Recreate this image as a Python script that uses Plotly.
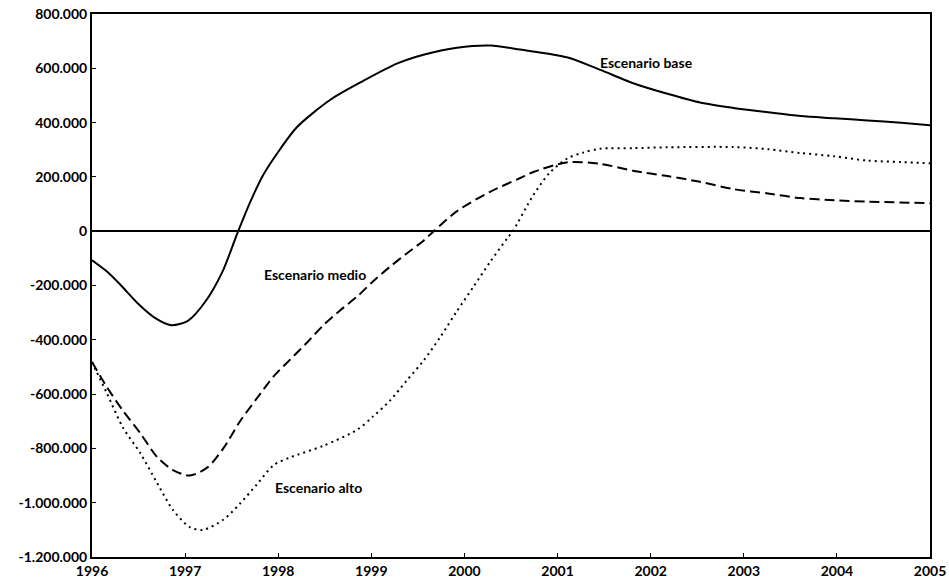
import plotly.graph_objects as go

# ---- data (values in thousands) ----
years_base = [1996.0, 1996.17, 1996.31, 1996.49, 1996.68, 1996.85, 1997.03, 1997.22, 1997.40,
              1997.57, 1997.70, 1997.84, 1998.02, 1998.20, 1998.56, 1998.91, 1999.28, 1999.56,
              1999.92, 2000.28, 2000.60, 2001.11, 2001.46, 2001.82, 2002.18, 2002.53, 2002.89,
              2003.26, 2003.61, 2003.97, 2004.33, 2004.69, 2005.0]
base = [-107, -151, -199, -265, -320, -346, -330, -258, -150, 0, 108, 208, 302, 383, 484, 553,
        618, 650, 676, 684, 669, 640, 594, 544, 506, 474, 454, 438, 424, 416, 408, 399, 390]

years_medio = [1996.0, 1996.16, 1996.33, 1996.52, 1996.70, 1996.87, 1997.05, 1997.24, 1997.41,
               1997.59, 1997.77, 1997.95, 1998.13, 1998.31, 1998.48, 1998.67, 1998.85, 1999.02,
               1999.20, 1999.38, 1999.56, 1999.67, 1999.92, 2000.28, 2000.60, 2000.74, 2001.11,
               2001.46, 2001.82, 2002.18, 2002.53, 2002.89, 2003.26, 2003.61, 2003.97, 2004.33,
               2005.0]
medio = [-482, -574, -660, -745, -832, -880, -900, -870, -800, -700, -616, -535, -472, -410,
         -348, -290, -240, -184, -131, -82, -35, 0, 74, 146, 196, 218, 254, 248, 222, 203, 182,
         155, 139, 122, 114, 109, 103]

years_alto = [1996.0, 1996.16, 1996.33, 1996.52, 1996.70, 1996.87, 1997.05, 1997.19, 1997.41,
              1997.59, 1997.77, 1997.95, 1998.13, 1998.48, 1998.85, 1999.02, 1999.20, 1999.38,
              1999.56, 1999.74, 1999.92, 2000.10, 2000.28, 2000.46, 2000.52, 2000.74, 2000.92,
              2001.11, 2001.28, 2001.46, 2001.82, 2002.18, 2002.89, 2003.26, 2003.61, 2003.97,
              2004.33, 2004.69, 2005.0]
alto = [-482, -597, -722, -818, -928, -1027, -1090, -1100, -1063, -1003, -933, -862, -833, -791,
        -731, -682, -624, -550, -477, -390, -294, -203, -111, -26, 0, 133, 217, 269, 290, 304,
        306, 309, 310, 302, 288, 276, 260, 255, 250]

x_ticks = [1996, 1997, 1998, 1999, 2000, 2001, 2002, 2003, 2004, 2005]
y_tickvals = [800000, 600000, 400000, 200000, 0, -200000, -400000, -600000, -800000,
              -1000000, -1200000]
y_ticktext = ["800.000", "600.000", "400.000", "200.000", "0", "-200.000", "-400.000",
              "-600.000", "-800.000", "-1.000.000", "-1.200.000"]

labels = ["Escenario base", "Escenario medio", "Escenario alto"]
label_x = [2001.95, 1998.4, 1998.43]
label_y = [620000, -158000, -945000]

K = 1000
fig = go.Figure()
fig.add_trace(go.Scatter(x=years_base, y=[v * K for v in base], mode="lines",
                         line=dict(color="black", width=2, shape="spline", smoothing=0.8),
                         name=labels[0], showlegend=False))
fig.add_trace(go.Scatter(x=years_medio, y=[v * K for v in medio], mode="lines",
                         line=dict(color="black", width=2, shape="spline", smoothing=0.8,
                                   dash="10px,5px"),
                         name=labels[1], showlegend=False))
fig.add_trace(go.Scatter(x=years_alto, y=[v * K for v in alto], mode="lines",
                         line=dict(color="black", width=2, shape="spline", smoothing=0.8,
                                   dash="2px,4px"),
                         name=labels[2], showlegend=False))

for t, xx, yy in zip(labels, label_x, label_y):
    fig.add_annotation(x=xx, y=yy, text=t, showarrow=False,
                       font=dict(family="Lato", size=14, color="black", weight="bold"))

tickfont = dict(family="Lato", size=14, color="black", weight="bold")
fig.update_layout(
    template="none",
    width=949, height=585,
    margin=dict(l=92, r=19, t=14, b=28),
    paper_bgcolor="white", plot_bgcolor="white",
    xaxis=dict(range=[1996, 2005], tickvals=x_ticks, ticktext=[str(v) for v in x_ticks],
               showgrid=False, zeroline=False, showline=True, linecolor="black", linewidth=2,
               mirror=True, ticks="inside", ticklen=4, tickcolor="black", tickfont=tickfont,
               automargin=False, ticklabeloverflow="allow"),
    yaxis=dict(range=[-1200000, 800000], tickvals=y_tickvals, ticktext=y_ticktext,
               showgrid=False, zeroline=True, zerolinecolor="black", zerolinewidth=1.5,
               showline=True, linecolor="black", linewidth=2, mirror=True,
               ticks="inside", ticklen=4, tickcolor="black", tickfont=tickfont,
               automargin=False, ticklabeloverflow="allow"),
)

fig.write_html("out.html", config={"displayModeBar": False},
               post_script="document.body.style.margin='0';document.body.style.overflow='hidden';")
